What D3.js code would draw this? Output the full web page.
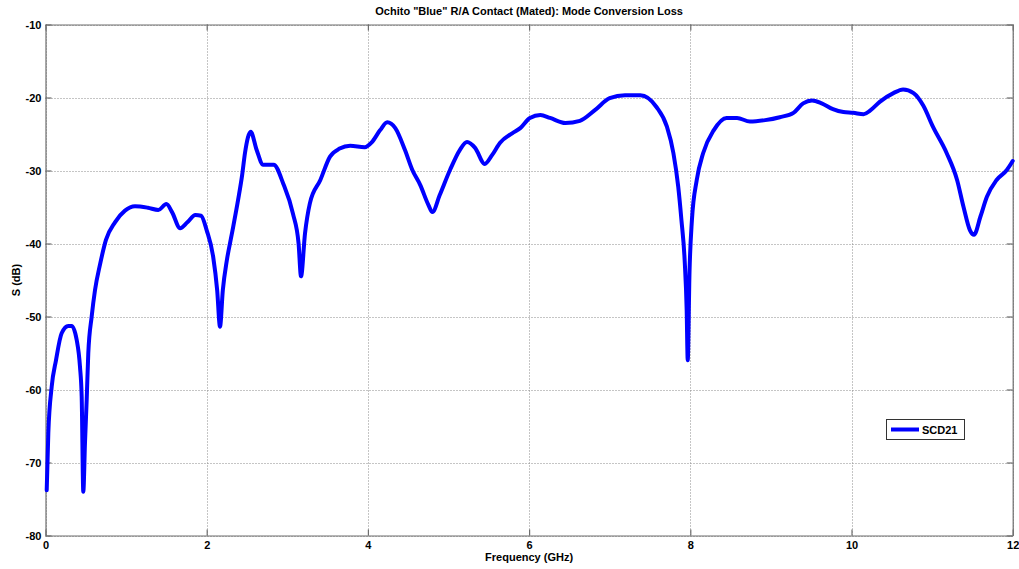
<!DOCTYPE html>
<html>
<head>
<meta charset="utf-8">
<script src="https://cdn.jsdelivr.net/npm/d3@7"></script>
<style>
  html, body { margin: 0; padding: 0; background: #fff; }
  svg { display: block; font-family: Arial, "Liberation Sans", sans-serif; }
</style>
</head>
<body>
<svg id="chart" width="1019" height="569"></svg>
<script>
// Frequency (GHz) and SCD21 magnitude (dB)
const freqGHz = [
  0.015, 0.035, 0.077, 0.13, 0.20, 0.283, 0.325, 0.387, 0.428, 0.449, 0.469, 0.49, 0.511, 0.531, 0.573,
  0.614, 0.676, 0.75, 0.862, 0.986, 1.11, 1.27, 1.40, 1.50, 1.57, 1.67, 1.76, 1.86, 1.93, 2.0,
  2.08, 2.13, 2.165, 2.20, 2.25, 2.31, 2.39, 2.44, 2.475, 2.546, 2.62, 2.70, 2.83, 2.95, 3.07,
  3.14, 3.17, 3.22, 3.28, 3.41, 3.53, 3.65, 3.78, 3.96, 4.05, 4.15, 4.24, 4.34, 4.46, 4.55,
  4.65, 4.75, 4.80, 4.89, 5.02, 5.14, 5.23, 5.33, 5.45, 5.54, 5.64, 5.79, 5.89, 6.01, 6.14,
  6.26, 6.45, 6.63, 6.82, 7.0, 7.19, 7.38, 7.58, 7.71, 7.79, 7.85, 7.89, 7.93, 7.955, 7.968,
  7.99, 8.02, 8.08, 8.16, 8.29, 8.45, 8.58, 8.74, 8.93, 9.11, 9.28, 9.40, 9.51, 9.63, 9.77,
  9.90, 10.02, 10.15, 10.23, 10.35, 10.52, 10.64, 10.77, 10.89, 11.01, 11.18, 11.31, 11.39, 11.47, 11.52,
  11.60, 11.68, 11.80, 11.93, 12.0
];
const scd21 = [
  -73.8, -66.0, -59.6, -56.0, -52.3, -51.3, -51.3, -53.2, -56.9, -61.0, -74.0, -67.3, -61.4, -55.0, -50.0,
  -46.4, -42.9, -39.5, -37.1, -35.5, -34.9, -35.1, -35.4, -34.6, -35.7, -37.9, -37.1, -36.1, -36.2, -38.2,
  -41.8, -46.4, -51.4, -46.4, -42.3, -38.8, -34.0, -30.6, -27.6, -24.7, -27.2, -29.2, -29.2, -31.8, -35.9,
  -40.0, -44.5, -38.6, -34.5, -31.3, -28.1, -27.0, -26.6, -26.8, -26.1, -24.5, -23.4, -24.2, -27.2, -29.9,
  -32.0, -34.7, -35.7, -33.4, -29.9, -27.2, -26.1, -26.9, -29.1, -27.9, -26.2, -24.9, -24.2, -22.8, -22.4,
  -22.8, -23.5, -23.2, -21.7, -20.1, -19.7, -19.7, -21.3, -24.0, -27.6, -32.2, -36.8, -42.3, -49.1, -56.0,
  -44.0, -36.8, -31.3, -27.6, -24.5, -22.8, -22.8, -23.3, -23.1, -22.7, -22.1, -20.8, -20.4, -20.8, -21.6,
  -22.0, -22.1, -22.3, -21.8, -20.6, -19.4, -18.9, -19.4, -21.1, -24.0, -27.6, -31.3, -35.0, -38.2, -38.8,
  -36.3, -33.6, -31.3, -29.9, -28.7
];
const xTicks = [0, 2, 4, 6, 8, 10, 12];
const yTicks = [-80, -70, -60, -50, -40, -30, -20, -10];
const seriesName = "SCD21";
const titleText = 'Ochito "Blue" R/A Contact (Mated): Mode Conversion Loss';
const xLabel = "Frequency (GHz)";
const yLabel = "S (dB)";

const svg = d3.select("#chart");
const L = 45.5, R = 1012.7, T = 24.5, B = 535.5;

const x = d3.scaleLinear().domain([0, 12]).range([L, R]);
const y = d3.scaleLinear().domain([-80, -10]).range([B, T]);

const gridColor = "#8a8a8a";
const axisColor = "#6e6e6e";

// dotted grid
const grid = svg.append("g").attr("stroke", gridColor).attr("stroke-width", 1).attr("stroke-dasharray", "1,2");
grid.selectAll("line.v").data(xTicks).join("line")
  .attr("x1", d => Math.round(x(d)) + 0.5).attr("x2", d => Math.round(x(d)) + 0.5)
  .attr("y1", T).attr("y2", B);
grid.selectAll("line.h").data(yTicks).join("line")
  .attr("x1", L).attr("x2", R)
  .attr("y1", d => Math.round(y(d)) + 0.5).attr("y2", d => Math.round(y(d)) + 0.5);

// box axes with inward ticks; labels use a plain hyphen for negatives
const tickLen = 6;
const fmt = d => String(d);
const xAxisB = d3.axisBottom(x).tickValues(xTicks).tickSizeInner(-tickLen).tickSizeOuter(0).tickPadding(6).tickFormat(fmt);
const xAxisT = d3.axisTop(x).tickValues(xTicks).tickSizeInner(-tickLen).tickSizeOuter(0).tickFormat("");
const yAxisL = d3.axisLeft(y).tickValues(yTicks).tickSizeInner(-tickLen).tickSizeOuter(0).tickPadding(4).tickFormat(fmt);
const yAxisR = d3.axisRight(y).tickValues(yTicks).tickSizeInner(-tickLen).tickSizeOuter(0).tickFormat("");

function styleAxis(g) {
  g.select(".domain").attr("stroke", axisColor).attr("stroke-width", 1.2);
  g.selectAll(".tick line").attr("stroke", axisColor).attr("stroke-width", 1.2);
  g.selectAll(".tick text").attr("fill", "#000").attr("font-weight", "bold")
    .attr("font-size", 11).attr("font-family", "Arial, 'Liberation Sans', sans-serif");
}
svg.append("g").attr("transform", `translate(0,${B})`).call(xAxisB).call(styleAxis);
svg.append("g").attr("transform", `translate(0,${T})`).call(xAxisT).call(styleAxis);
svg.append("g").attr("transform", `translate(${L},0)`).call(yAxisL).call(styleAxis);
svg.append("g").attr("transform", `translate(${R},0)`).call(yAxisR).call(styleAxis);

// SCD21 trace
const data = freqGHz.map((f, i) => ({ f, v: scd21[i] }));
const line = d3.line().x(d => x(d.f)).y(d => y(d.v)).curve(d3.curveMonotoneX);
svg.append("path").datum(data)
  .attr("fill", "none").attr("stroke", "#0000ff").attr("stroke-width", 4)
  .attr("stroke-linejoin", "round").attr("stroke-linecap", "round")
  .attr("d", line);

// title and axis labels
svg.append("text").attr("x", (L + R) / 2).attr("y", 15).attr("text-anchor", "middle")
  .attr("font-weight", "bold").attr("font-size", 11).text(titleText);
svg.append("text").attr("x", (L + R) / 2).attr("y", 561).attr("text-anchor", "middle")
  .attr("font-weight", "bold").attr("font-size", 11).text(xLabel);
svg.append("text").attr("transform", `translate(20,${(T + B) / 2}) rotate(-90)`).attr("text-anchor", "middle")
  .attr("font-weight", "bold").attr("font-size", 11).text(yLabel);

// legend
const lg = svg.append("g").attr("transform", "translate(886,419)");
lg.append("rect").attr("x", 0.5).attr("y", 0.5).attr("width", 78).attr("height", 20)
  .attr("fill", "#fff").attr("stroke", "#333").attr("stroke-width", 1);
lg.append("line").attr("x1", 5).attr("x2", 33).attr("y1", 10.5).attr("y2", 10.5)
  .attr("stroke", "#0000ff").attr("stroke-width", 4);
lg.append("text").attr("x", 36).attr("y", 15).attr("font-weight", "bold").attr("font-size", 11)
  .text(seriesName);
</script>
</body>
</html>
